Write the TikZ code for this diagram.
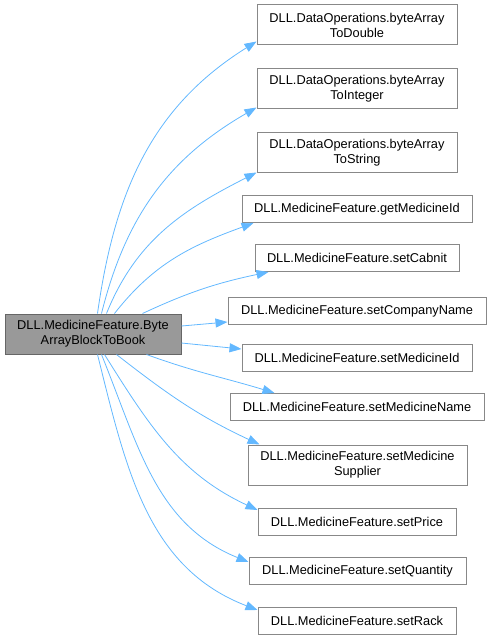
\documentclass[tikz,border=0pt]{standalone}
\usepackage{fontspec}
\setmainfont{Liberation Sans}
\usetikzlibrary{arrows.meta}
\definecolor{edgeblue}{HTML}{63B8FF}
\definecolor{mainfill}{HTML}{999999}
\definecolor{mainline}{HTML}{666666}
\definecolor{boxline}{HTML}{888888}

\begin{document}
\begin{tikzpicture}[x=1pt,y=-1pt]
\tikzstyle{every node}=[draw=boxline, fill=white, shape=rectangle, inner sep=0pt, align=center, line width=1pt, minimum height=27pt, font=\fontsize{12.8}{15}\selectfont];
\tikzstyle{caller}=[draw=mainline, fill=mainfill, minimum height=40pt];
\tikzstyle{twoline}=[minimum height=40pt];
\tikzstyle{edge}=[draw=edgeblue, line width=0.8pt, -{Triangle[length=12pt,width=9pt]}];

\useasboundingbox (0,0) rectangle (491,639);

\draw (93,334) node[caller, minimum width=176pt] (a1) {DLL.MedicineFeature.Byte\\ArrayBlockToBook};

\draw (357,25) node[twoline, minimum width=200pt] (a2) {DLL.DataOperations.byteArray\\ToDouble};
\draw (357,89) node[twoline, minimum width=200pt] (a3) {DLL.DataOperations.byteArray\\ToInteger};
\draw (357,153) node[twoline, minimum width=200pt] (a4) {DLL.DataOperations.byteArray\\ToString};

\draw (357,209) node[minimum width=230pt] (a5) {DLL.MedicineFeature.getMedicineId};
\draw (357,258) node[minimum width=204pt] (a6) {DLL.MedicineFeature.setCabnit};
\draw (357,311) node[minimum width=258pt] (a7) {DLL.MedicineFeature.setCompanyName};
\draw (357,358) node[minimum width=230pt] (a8) {DLL.MedicineFeature.setMedicineId};
\draw (357,407) node[minimum width=254pt] (a9) {DLL.MedicineFeature.setMedicineName};
\draw (357.5,465) node[twoline, minimum width=219pt] (a10) {DLL.MedicineFeature.setMedicine\\Supplier};
\draw (357,522) node[minimum width=198pt] (a11) {DLL.MedicineFeature.setPrice};
\draw (357.5,571) node[minimum width=217pt] (a12) {DLL.MedicineFeature.setQuantity};
\draw (357,621) node[minimum width=198pt] (a13) {DLL.MedicineFeature.setRack};

\draw[edge] ([xshift=93pt]a1.north west) to[out=82,in=212] ([yshift=4pt]a2.south west);
\draw[edge] ([xshift=97pt]a1.north west) to[out=76,in=210] ([yshift=2pt]a3.south west);
\draw[edge] ([xshift=102pt]a1.north west) to[out=68,in=207] ([yshift=1pt]a4.south west);
\draw[edge] ([xshift=110pt]a1.north west) to[out=52,in=200] ([xshift=12pt]a5.south west);
\draw[edge] ([xshift=138pt]a1.north west) to[out=25,in=192] ([xshift=14pt]a6.south west);
\draw[edge] ([yshift=8pt]a1.east) -- ([yshift=-11pt]a7.west);
\draw[edge] ([yshift=-9pt]a1.east) -- ([yshift=9pt]a8.west);
\draw[edge] ([xshift=142pt]a1.south west) to[out=-20,in=163] ([xshift=45pt]a9.north west);
\draw[edge] ([xshift=112pt]a1.south west) to[out=-38,in=155] ([xshift=12pt]a10.north west);
\draw[edge] ([xshift=100pt]a1.south west) to[out=-58,in=155] ([yshift=12pt]a11.west);
\draw[edge] ([xshift=97pt]a1.south west) to[out=-68,in=158] ([yshift=9pt]a12.west);
\draw[edge] ([xshift=93pt]a1.south west) to[out=-76,in=159] ([yshift=11pt]a13.west);

\end{tikzpicture}
\end{document}
